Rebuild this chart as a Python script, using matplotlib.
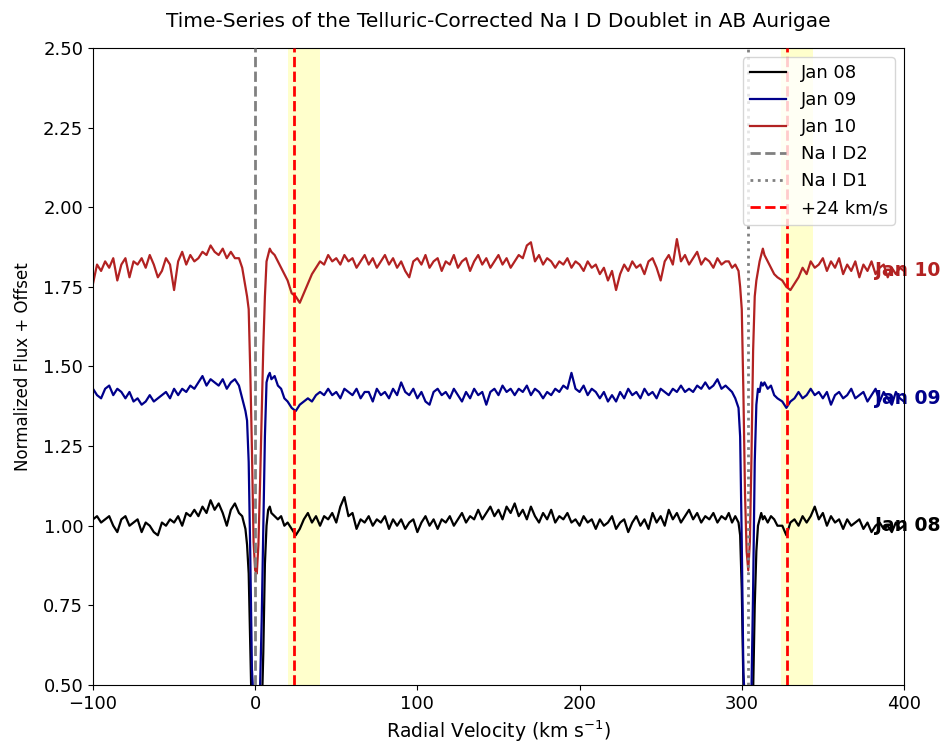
import numpy as np
import matplotlib
matplotlib.use("Agg")
import matplotlib.pyplot as plt

# ---- velocity sampling (km/s) ----
vel_a = np.arange(-100.0, -12.5 + 0.01, 2.5)                  # 36
vel_b = [-10, -8, -6, -5, -4, -3, -2, -1, 0, 1, 2, 3, 4, 5, 6, 7, 8, 9, 10, 12, 14, 16, 18]  # 23
vel_c = np.arange(20.0, 290.0 + 0.01, 2.5)                    # 109
vel_d = [292, 294, 296, 298, 299, 300, 301, 302, 303, 304, 305, 306, 307, 308, 309, 310,
         311, 312, 313, 314, 316, 318, 320, 322]               # 24
vel_e = np.arange(325.0, 400.0 + 0.01, 2.5)                   # 31
velocity = np.concatenate([vel_a, vel_b, vel_c, vel_d, vel_e])

# ---- normalized flux (before offset) ----
flux_jan08 = [
    # -100 .. -12.5
    1.02, 1.03, 1.01, 1.02, 1.03, 1.00, 0.98, 1.02, 1.03, 1.00,
    1.01, 1.02, 0.98, 1.01, 1.00, 0.98, 0.97, 1.01, 1.00, 1.02,
    1.01, 1.03, 1.00, 1.04, 1.03, 1.05, 1.03, 1.06, 1.04, 1.08,
    1.05, 1.07, 1.04, 1.00, 1.05, 1.07,
    # D2 core
    1.04, 1.03, 0.99, 0.94, 0.85, 0.62, 0.38, 0.15, 0.05, 0.03, 0.06, 0.18, 0.40, 0.60,
    0.88, 1.00, 1.05, 1.06, 1.04, 1.03, 1.02, 1.03, 1.00,
    # 20 .. 290
    1.01, 0.99, 0.97, 0.99, 1.02, 1.04, 1.01, 1.03, 1.00, 1.03,
    1.02, 1.04, 1.01, 1.06, 1.09, 1.03, 1.04, 0.99, 1.02, 1.01,
    1.03, 1.00, 1.02, 1.01, 1.03, 0.99, 1.02, 1.00, 1.02, 0.99,
    1.01, 1.02, 0.98, 1.01, 1.03, 1.00, 1.02, 0.99, 1.02, 1.01,
    1.03, 1.00, 1.02, 1.04, 1.01, 1.03, 1.02, 1.05, 1.02, 1.04,
    1.06, 1.03, 1.05, 1.02, 1.06, 1.04, 1.07, 1.03, 1.05, 1.02,
    1.06, 1.03, 1.01, 1.04, 1.02, 1.05, 1.01, 1.03, 1.02, 1.04,
    1.01, 1.02, 1.00, 1.03, 1.01, 1.02, 0.99, 1.02, 1.00, 1.01,
    1.03, 0.99, 1.01, 1.02, 0.98, 1.01, 1.03, 1.00, 1.02, 0.99,
    1.04, 1.01, 1.03, 1.00, 1.05, 1.02, 1.04, 1.01, 1.03, 1.05,
    1.02, 1.04, 1.01, 1.03, 1.02, 1.04, 1.01, 1.03, 1.02,
    # D1 core
    1.04, 1.01, 1.03, 1.01, 0.97, 0.80, 0.50, 0.25, 0.08, 0.04, 0.06, 0.20, 0.48, 0.75,
    0.92, 1.00, 1.02, 1.04, 1.02, 1.03, 1.01, 1.03, 1.02, 1.00,
    # 325 .. 400
    1.00, 0.97, 1.01, 1.02, 1.00, 1.03, 1.01, 1.03, 1.06, 1.02,
    1.04, 1.00, 1.03, 1.01, 1.02, 0.99, 1.02, 1.00, 1.01, 1.02,
    0.99, 1.01, 0.98, 1.00, 1.01, 0.99, 1.00, 0.98, 1.01, 0.99, 1.00,
]

flux_jan09 = [
    1.03, 1.01, 1.00, 1.03, 1.04, 1.01, 1.03, 1.02, 1.00, 1.02,
    0.99, 1.00, 0.98, 0.99, 1.01, 0.99, 1.00, 1.01, 1.02, 1.00,
    1.03, 1.01, 1.03, 1.02, 1.04, 1.03, 1.05, 1.07, 1.04, 1.06,
    1.05, 1.04, 1.06, 1.03, 1.05, 1.06,
    1.04, 1.00, 0.96, 0.93, 0.80, 0.50, 0.15, 0.05, 0.02, 0.02, 0.04, 0.09, 0.30, 0.60,
    0.88, 1.05, 1.07, 1.08, 1.06, 1.07, 1.04, 1.03, 1.00,
    0.99, 0.97, 0.96, 0.98, 0.99, 1.00, 0.99, 1.01, 1.02, 1.01,
    1.03, 1.01, 1.02, 1.00, 1.03, 1.02, 1.01, 1.03, 1.00, 1.02,
    1.02, 0.99, 1.03, 1.01, 1.02, 1.00, 1.03, 1.01, 1.05, 1.02,
    1.01, 1.03, 1.00, 1.02, 0.99, 0.98, 1.02, 1.03, 1.01, 1.02,
    1.00, 1.03, 1.01, 0.99, 1.02, 1.00, 1.03, 1.01, 1.02, 0.98,
    1.02, 1.03, 1.01, 1.04, 1.02, 1.03, 1.01, 1.03, 1.02, 1.04,
    1.01, 1.03, 1.02, 1.00, 1.02, 1.01, 1.03, 1.02, 1.04, 1.03,
    1.08, 1.03, 1.02, 1.04, 1.01, 1.03, 1.02, 1.00, 1.02, 0.99,
    1.01, 0.99, 1.02, 1.00, 1.03, 1.01, 1.02, 1.00, 1.03, 1.01,
    1.02, 1.00, 1.03, 1.02, 1.01, 1.03, 1.02, 1.04, 1.02, 1.03,
    1.02, 1.04, 1.03, 1.05, 1.03, 1.04, 1.06, 1.03, 1.04,
    1.03, 1.02, 1.00, 0.97, 0.88, 0.55, 0.14, 0.04, 0.02, 0.02, 0.04, 0.09, 0.40, 0.80,
    0.98, 1.03, 1.02, 1.05, 1.04, 1.05, 1.03, 1.04, 1.01, 1.00,
    0.99, 0.97, 0.99, 1.00, 1.02, 1.00, 1.01, 1.03, 1.01, 1.02,
    1.00, 1.02, 0.98, 1.01, 1.02, 1.00, 1.01, 1.03, 1.00, 1.01,
    1.02, 0.99, 1.01, 1.03, 0.99, 1.02, 1.00, 0.98, 1.02, 1.00, 0.99,
]

flux_jan10 = [
    0.96, 1.02, 1.00, 1.03, 1.01, 1.04, 0.97, 1.02, 1.04, 0.98,
    1.03, 1.02, 1.04, 1.01, 1.05, 1.02, 0.98, 1.00, 1.04, 1.02,
    0.94, 1.03, 1.06, 1.02, 1.05, 1.03, 1.04, 1.06, 1.05, 1.08,
    1.06, 1.05, 1.07, 1.04, 1.06, 1.04,
    1.04, 1.01, 0.95, 0.92, 0.88, 0.68, 0.44, 0.15, 0.06, 0.05, 0.14, 0.33, 0.55, 0.76,
    0.92, 1.03, 1.05, 1.07, 1.06, 1.05, 1.03, 1.01, 0.99,
    0.97, 0.93, 0.92, 0.90, 0.93, 0.96, 0.99, 1.01, 1.03, 1.02,
    1.05, 1.03, 1.04, 1.02, 1.05, 1.03, 1.04, 1.01, 1.03, 1.05,
    1.02, 1.04, 1.01, 1.03, 1.05, 1.02, 1.04, 1.01, 1.03, 1.00,
    0.98, 1.03, 1.04, 1.02, 1.05, 1.01, 1.03, 1.04, 1.00, 1.03,
    1.02, 1.05, 1.01, 1.03, 1.04, 1.00, 1.03, 1.05, 1.02, 1.04,
    1.01, 1.03, 1.05, 1.02, 1.04, 1.01, 1.03, 1.05, 1.04, 1.08,
    1.09, 1.03, 1.05, 1.02, 1.04, 1.03, 1.01, 1.03, 1.02, 1.04,
    1.01, 1.03, 1.02, 1.00, 1.03, 1.01, 1.02, 0.99, 1.01, 0.97,
    1.00, 0.94, 0.99, 1.02, 1.00, 1.03, 1.01, 1.02, 0.99, 1.03,
    1.04, 1.01, 0.97, 1.03, 1.05, 1.02, 1.10, 1.03, 1.05, 1.02,
    1.04, 1.06, 1.02, 1.04, 1.03, 1.01, 1.04, 1.02, 1.03,
    1.03, 1.01, 1.02, 1.00, 0.95, 0.88, 0.62, 0.30, 0.12, 0.06, 0.15, 0.42, 0.75, 0.92,
    0.97, 1.00, 1.03, 1.05, 1.07, 1.05, 1.03, 1.01, 0.99, 0.98,
    0.97, 0.95, 0.94, 0.96, 0.98, 1.01, 0.99, 1.03, 1.01, 1.02,
    1.04, 1.00, 1.03, 1.01, 1.04, 0.99, 1.02, 1.00, 1.03, 0.98,
    1.02, 1.00, 1.03, 0.99, 1.01, 1.02, 0.98, 1.01, 0.99, 1.01, 1.00,
]

series_labels = ["Jan 08", "Jan 09", "Jan 10"]
series_offsets = [0.0, 0.4, 0.8]
series_colors = ["black", "darkblue", "firebrick"]

d2_velocity = 0.0
d1_velocity = 304.0
shift_velocity = 24.0
band_range = [20.0, 40.0]

x_ticks = [-100, 0, 100, 200, 300, 400]
y_ticks = [0.5, 0.75, 1.0, 1.25, 1.5, 1.75, 2.0, 2.25, 2.5]

fig = plt.figure(figsize=(9.43, 7.43), dpi=100)
ax = fig.add_axes([0.0986, 0.0781, 0.86, 0.8573])

for rest in [d2_velocity, d1_velocity]:
    ax.axvspan(rest + band_range[0], rest + band_range[1], color="yellow", alpha=0.2, lw=0, zorder=0)

fluxes = [flux_jan08, flux_jan09, flux_jan10]
for flux, lab, off, col in zip(fluxes, series_labels, series_offsets, series_colors):
    f = np.asarray(flux) + off
    ax.plot(velocity, f, color=col, lw=1.6, label=lab, zorder=2)
    ax.text(382, 1.0 + off, lab, color=col, fontsize=13.5, fontweight="bold",
            va="center", ha="left", clip_on=False, zorder=1)

ax.axvline(d2_velocity, color="gray", ls="--", lw=2, label="Na I D2", zorder=3)
ax.axvline(d1_velocity, color="gray", ls=":", lw=2, label="Na I D1", zorder=3)
ax.axvline(d2_velocity + shift_velocity, color="red", ls="--", lw=2, label="+24 km/s", zorder=3)
ax.axvline(d1_velocity + shift_velocity, color="red", ls="--", lw=2, zorder=3)

ax.set_xlim(-100, 400)
ax.set_ylim(0.5, 2.5)
ax.set_xticks(x_ticks)
ax.set_yticks(y_ticks)
ax.set_yticklabels([f"{t:.2f}" for t in y_ticks])
ax.tick_params(labelsize=13)
ax.set_xlabel("Radial Velocity (km s$^{-1}$)", fontsize=13.5)
ax.set_ylabel("Normalized Flux + Offset", fontsize=12, labelpad=8)
ax.set_title("Time-Series of the Telluric-Corrected Na I D Doublet in AB Aurigae", fontsize=14.5, pad=15)
ax.legend(loc="upper right", fontsize=13)

fig.savefig("out.png", dpi=100)
